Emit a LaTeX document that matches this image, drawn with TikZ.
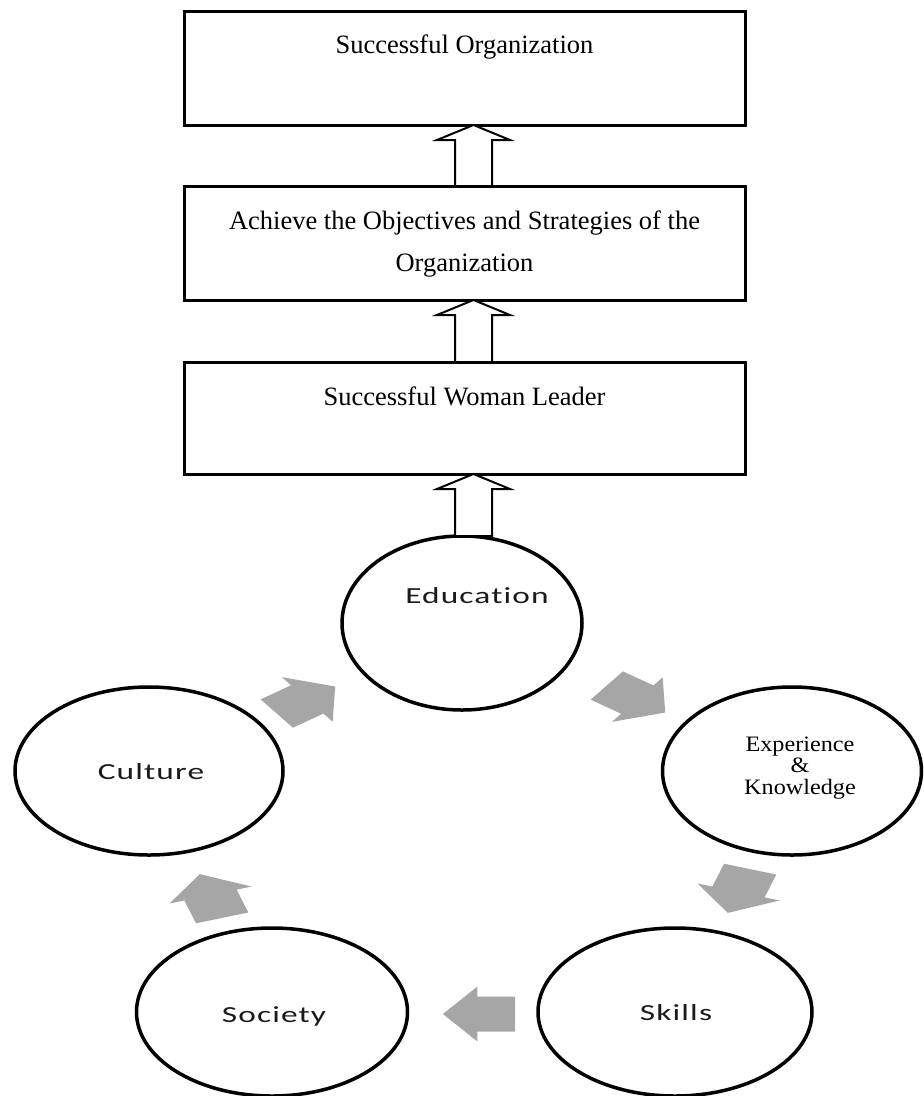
\documentclass[tikz,border=0pt]{standalone}
\usepackage{fontspec}
\setmainfont{Liberation Serif}
\newfontfamily\calwide[FakeStretch=1.45,LetterSpace=5,Ligatures=NoCommon]{Carlito}
\newfontfamily\timeswide[FakeStretch=1.1]{Liberation Serif}
\usetikzlibrary{shapes.geometric,calc}
\definecolor{arrowgray}{HTML}{A6A6A6}
\definecolor{ctextcol}{HTML}{1A1A1A}
\newcommand\hollowup[2]{%
  \draw[hollowarrow]
    ($(#1.north -| ax)+(-18.5,0)$) --
    ($(#2.south -| ax)+(-18.5,15)$) --
    ($(#2.south -| ax)+(-36.5,15)$) --
    (#2.south -| ax) --
    ($(#2.south -| ax)+(36.5,15)$) --
    ($(#2.south -| ax)+(18.5,15)$) --
    ($(#1.north -| ax)+(18.5,0)$) -- cycle;}
\newcommand\cyclearrow[2]{%
  \fill[arrowgray, shift={(#1)}, xscale=1.57, rotate=#2]
    (-23,-17.5) -- (1,-17.5) -- (1,-27.5) -- (23,0) -- (1,27.5) -- (1,17.5) -- (-23,17.5) -- cycle;}
\begin{document}
\begin{tikzpicture}[x=1pt,y=-1pt,
  box/.style={draw=black,line width=3pt,inner sep=0pt,outer sep=0pt,anchor=north west,minimum width=561pt},
  btext/.style={font=\fontsize{26.5}{42}\selectfont,inner sep=0pt,align=center},
  circ/.style={ellipse,draw=black,line width=3.5pt,inner sep=0pt,outer sep=0pt,fill=white},
  ctext/.style={font=\calwide\fontsize{23}{27}\selectfont,text=ctextcol,inner sep=0pt,anchor=base},
  etext/.style={font=\timeswide\fontsize{22}{21.5}\selectfont,inner sep=0pt,align=center,anchor=base},
  hollowarrow/.style={draw=black,fill=white,line width=2pt,line join=miter}]
\fill[white] (0,0) rectangle (924,1096);
\useasboundingbox (0,0) rectangle (924,1096);
\coordinate (ax) at (473.5,0);
% boxes
\node[box,minimum height=114pt] (b1) at (184,11) {};
\node[box,minimum height=114pt] (b2) at (184,186) {};
\node[box,minimum height=112pt] (b3) at (184,362) {};
\node[btext,anchor=base] (t1) at ($(b1.north)+(0,42)$) {Successful Organization};
\node[btext,anchor=base] (t2) at ($(b2.north)+(0,85)$) {Achieve the Objectives and Strategies of the\\Organization};
\node[btext,anchor=base] (t3) at ($(b3.north)+(0,43)$) {Successful Woman Leader};
% ellipses
\node[circ,minimum width=240pt,minimum height=174pt] (edu) at (462,623) {};
\node[circ,minimum width=259pt,minimum height=168pt] (exp) at (792,771) {};
\node[circ,minimum width=268pt,minimum height=168pt] (cul) at (149,771) {};
\node[circ,minimum width=271pt,minimum height=168pt] (soc) at (272,1012) {};
\node[circ,minimum width=274pt,minimum height=168pt] (ski) at (675,1012) {};
\node[ctext] (eduT) at (477,603) {Education};
\node[ctext] (culT) at (151,779) {Culture};
\node[ctext] (socT) at (274,1022) {Society};
\node[ctext] (skiT) at (676,1020) {Skills};
\node[etext] (expT) at (800,794) {Experience\\\&\\Knowledge};
% hollow arrows
\hollowup{b2}{b1}
\hollowup{b3}{b2}
\hollowup{edu}{b3}
% cycle arrows
\coordinate (aA) at (306,700);
\coordinate (aB) at (636,699);
\coordinate (aC) at (739,891);
\coordinate (aD) at (479,1014);
\coordinate (aE) at (211,896);
\cyclearrow{aA}{36}
\cyclearrow{aB}{-36}
\cyclearrow{aC}{-108}
\cyclearrow{aD}{180}
\cyclearrow{aE}{108}
\end{tikzpicture}
\end{document}
